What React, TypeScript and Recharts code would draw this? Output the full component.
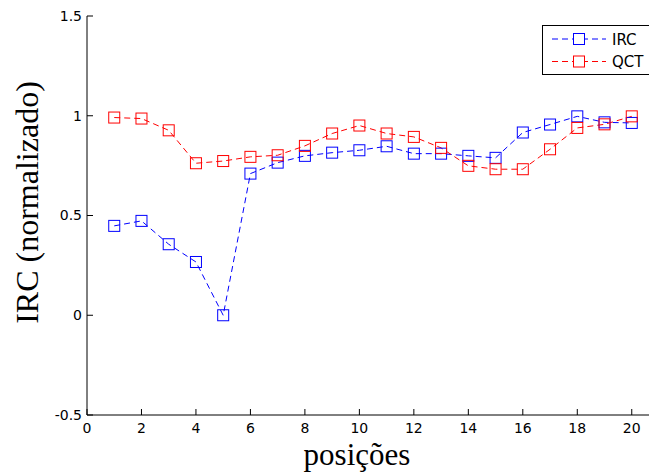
import { LineChart, Line, XAxis, YAxis } from "recharts";

const positions = [1, 2, 3, 4, 5, 6, 7, 8, 9, 10, 11, 12, 13, 14, 15, 16, 17, 18, 19, 20];
const irc = [0.448, 0.473, 0.356, 0.267, 0.0, 0.71, 0.765, 0.799, 0.815, 0.827, 0.847, 0.81, 0.81, 0.799, 0.789, 0.916, 0.956, 0.997, 0.967, 0.964];
const qct = [0.991, 0.986, 0.927, 0.762, 0.773, 0.794, 0.802, 0.849, 0.911, 0.951, 0.911, 0.894, 0.839, 0.749, 0.732, 0.732, 0.832, 0.939, 0.957, 0.997];
const xTicks = [0, 2, 4, 6, 8, 10, 12, 14, 16, 18, 20];
const yTicks = [-0.5, 0, 0.5, 1, 1.5];

const series = [
  { key: "IRC", name: "IRC", color: "#0000ff", values: irc },
  { key: "QCT", name: "QCT", color: "#ff0000", values: qct },
];

const data = positions.map((pos, i) => ({ pos, IRC: irc[i], QCT: qct[i] }));

const tickFont = { fontFamily: "DejaVu Sans", fontSize: 14, fill: "#000" };
const titleFont = "Liberation Serif";
const DASH = "6 4";
const SQ = 11;

const Square = (color: string) => (props: any) => {
  const { cx, cy, index } = props;
  if (cx == null || cy == null) return null;
  return <rect key={index} x={cx - SQ / 2} y={cy - SQ / 2} width={SQ} height={SQ} fill="none" stroke={color} strokeWidth={1} />;
};

// legend drawn by hand, sits over the top right of the plot
function LegendBox() {
  return (
    <svg width={115} height={50} style={{ position: "absolute", left: 542, top: 25 }}>
      <rect x={0.5} y={0.5} width={114} height={49} fill="#fff" stroke="#000" strokeWidth={1} />
      {series.map((s, i) => {
        const y = 14 + i * 22.5;
        return (
          <g key={s.key}>
            <line x1={10} x2={64} y1={y} y2={y} stroke={s.color} strokeWidth={1} strokeDasharray={DASH} />
            <rect x={37 - SQ / 2} y={y - SQ / 2} width={SQ} height={SQ} fill="#fff" stroke={s.color} strokeWidth={1} />
            <text x={70} y={y + 5.5} fontFamily="DejaVu Sans" fontSize={15} fill="#000">{s.name}</text>
          </g>
        );
      })}
    </svg>
  );
}

export default function App() {
  return (
    <div style={{ position: "absolute", left: 0, top: 0, width: 649, height: 474, overflow: "hidden", background: "#fff" }}>
      <LineChart width={700} height={474} data={data} margin={{ top: 16, right: 41, left: 27, bottom: 29 }}>
        <XAxis
          dataKey="pos"
          type="number"
          domain={[0, 21]}
          ticks={xTicks}
          interval={0}
          tickSize={-6}
          tickMargin={14}
          height={30}
          stroke="#000"
          tick={tickFont}
          label={() => (
            <text x={357} y={465} textAnchor="middle" fontFamily={titleFont} fontSize={31} fill="#000">posições</text>
          )}
        />
        <XAxis
          xAxisId="top"
          orientation="top"
          dataKey="pos"
          type="number"
          domain={[0, 21]}
          ticks={xTicks}
          interval={0}
          tickSize={-6}
          height={0}
          stroke="#000"
          tickFormatter={() => ""}
        />
        <YAxis
          type="number"
          domain={[-0.5, 1.5]}
          ticks={yTicks}
          interval={0}
          tickSize={-6}
          tickMargin={11}
          width={60}
          stroke="#000"
          tick={tickFont}
          label={(p: any) => {
            const vb = p.viewBox || { x: 27, y: 16, height: 399 };
            const x = vb.x + 11;
            const y = vb.y + vb.height / 2 - 13;
            return (
              <text x={x} y={y} transform={`rotate(-90 ${x} ${y})`} textAnchor="middle" fontFamily={titleFont} fontSize={32} fill="#000">
                IRC (normalizado)
              </text>
            );
          }}
        />
        {series.map((s) => (
          <Line
            key={s.key}
            dataKey={s.key}
            name={s.name}
            type="linear"
            stroke={s.color}
            strokeWidth={1}
            strokeDasharray={DASH}
            dot={Square(s.color)}
            activeDot={false}
            isAnimationActive={false}
          />
        ))}
      </LineChart>
      <LegendBox />
    </div>
  );
}
